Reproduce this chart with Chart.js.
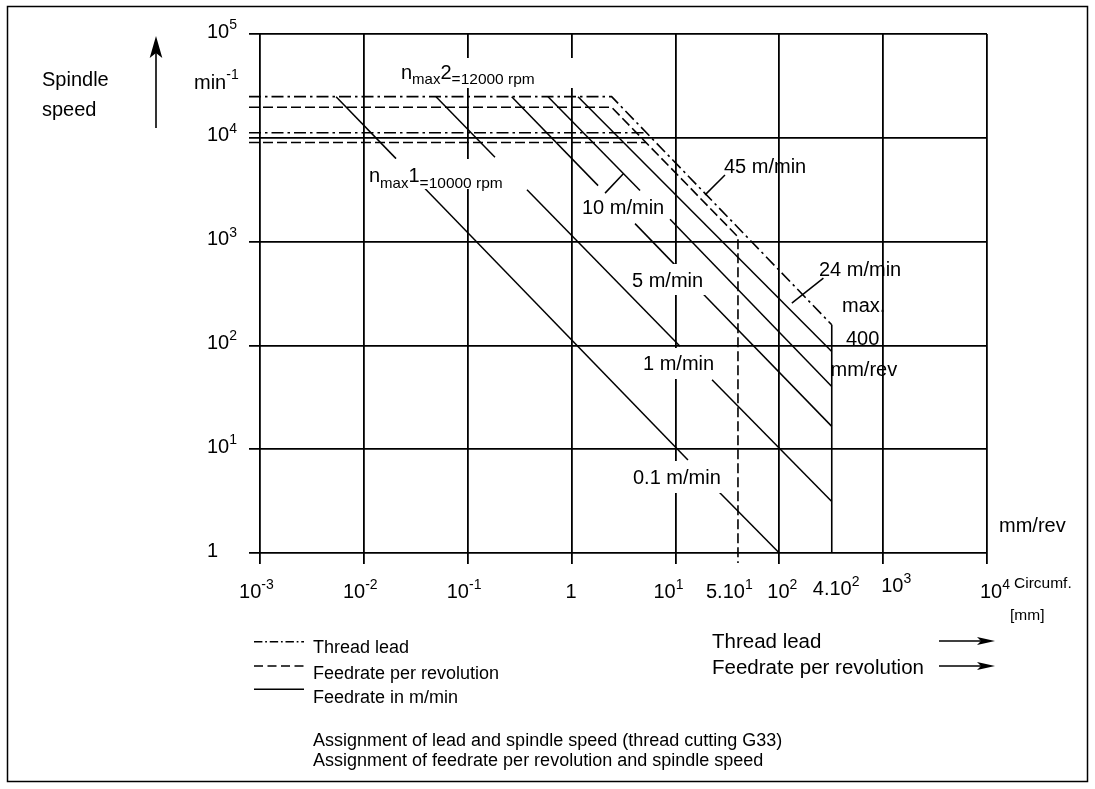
<!DOCTYPE html>
<html>
<head>
<meta charset="utf-8">
<title>Spindle speed vs. lead / feedrate</title>
<script src="https://cdn.jsdelivr.net/npm/chart.js@4.4.1/dist/chart.umd.min.js"></script>
<style>
  html, body { margin: 0; padding: 0; background: #fff; }
  #chart { display: block; }
</style>
</head>
<body>
<canvas id="chart" width="1095" height="789"></canvas>
<script>
// ---- axes ----
const xMin = 7.83e-4;               // left edge of the plot, a bit left of 10^-3
const xMax = 1e4;
const yMin = 1;
const yMax = 1e5;
const xDecades = [1e-3, 1e-2, 1e-1, 1, 1e1, 1e2, 1e3, 1e4];
const yDecades = [1, 1e1, 1e2, 1e3, 1e4, 1e5];

// tick labels: [base, exponent]
const xTickValues = [1e-3, 1e-2, 1e-1, 1, 10, 40, 100, 320, 1e3, 1e4];
const xTickLabels = [["10", "-3"], ["10", "-2"], ["10", "-1"], ["1", ""], ["10", "1"],
                     ["5.10", "1"], ["10", "2"], ["4.10", "2"], ["10", "3"], ["10", "4"]];
const yTickLabels = [["1", ""], ["10", "1"], ["10", "2"], ["10", "3"], ["10", "4"], ["10", "5"]];

// ---- n_max limits: thread lead (dash-dot), feedrate per rev (dashed) ----
// each series = list of polylines, each polyline = [x, y] points
const threadLead = [
  [[xMin, 24900], [2.43, 24900], [320, 158]],   // n_max2 + max lead
  [[xMin, 11200], [5.26, 11200]]                // n_max1
];
const feedPerRev = [
  [[xMin, 19700], [2.43, 19700], [40, 1110], [40, 0.8]],
  [[xMin, 9000], [5.22, 9000]]
];
const maxFeedLimit = [
  [[320, 158], [320, 1]]                        // max. 400 mm/rev
];

// ---- feedrate in m/min (solid), broken where labels sit ----
const feed01 = [[[0.0054, 24900], [0.0204, 6300]], [[0.0371, 3400], [13.2, 7.86]], [[26.3, 3.87], [100, 1]]];
const feed1  = [[[0.0495, 24900], [0.183, 6500]], [[0.372, 3160], [11.07, 98.2]], [[22.5, 46.7], [320, 3.14]]];
const feed5  = [[[0.265, 24900], [1.80, 3460]], [[4.08, 1490], [10, 590]], [[18.4, 315], [320, 16.6]]];
const feed10 = [[[0.593, 24900], [4.56, 3100]], [[8.87, 1640], [320, 40.2]]];
const feed24 = [[[1.153, 24900], [320, 87.3]]];

// leader lines of the labels
const leaders = [
  [[2.10, 2930], [3.15, 4500]],   // 10 m/min
  [[19.3, 2820], [30.0, 4390]],   // 45 m/min
  [[132, 255], [266, 444]]        // 24 m/min
];

// ---- styles ----
const FONT = '"Liberation Sans", Arial, Helvetica, sans-serif';
const DASH_DOT = [12, 4, 2.5, 4];
const DASHED = [10, 4];
const SOLID = [];

const font = (size) => size + "px " + FONT;

const toDatasets = (series, dash, width) =>
  series.map((line) => ({
    data: line.map(([x, y]) => ({ x: x, y: y })),
    borderColor: "#000",
    borderWidth: width,
    borderDash: dash,
    pointRadius: 0,
    tension: 0,
    fill: false,
    clip: false,
  }));

const datasets = [
  ...toDatasets(threadLead, DASH_DOT, 1.6),
  ...toDatasets(feedPerRev, DASHED, 1.6),
  ...toDatasets(maxFeedLimit, SOLID, 1.6),
  ...toDatasets(feed01, SOLID, 1.5),
  ...toDatasets(feed1, SOLID, 1.5),
  ...toDatasets(feed5, SOLID, 1.5),
  ...toDatasets(feed10, SOLID, 1.5),
  ...toDatasets(feed24, SOLID, 1.5),
  ...toDatasets(leaders, SOLID, 1.5),
];

// draw a run of text pieces (for super/subscripts)
function drawRuns(ctx, x, y, runs) {
  runs.forEach((r) => {
    ctx.font = font(r.size);
    ctx.fillText(r.t, x, y + (r.dy || 0));
    x += ctx.measureText(r.t).width;
  });
}

function arrow(ctx, x1, y1, x2, y2, len, half, notch) {
  const d = Math.hypot(x2 - x1, y2 - y1);
  const ux = (x2 - x1) / d, uy = (y2 - y1) / d;
  const nx = -uy, ny = ux;
  ctx.beginPath();
  ctx.moveTo(x1, y1);
  ctx.lineTo(x2 - ux * (len - notch), y2 - uy * (len - notch));
  ctx.stroke();
  ctx.beginPath();
  ctx.moveTo(x2, y2);
  ctx.lineTo(x2 - ux * len + nx * half, y2 - uy * len + ny * half);
  ctx.lineTo(x2 - ux * (len - notch), y2 - uy * (len - notch));
  ctx.lineTo(x2 - ux * len - nx * half, y2 - uy * len - ny * half);
  ctx.closePath();
  ctx.fill();
}

// labels inside the plot; box = white patch that interrupts the grid
const plotNotes = [
  { t: "10 m/min", x: 582, y: 214 },
  { t: "45 m/min", x: 724, y: 173 },
  { t: "5 m/min", x: 632, y: 286.5, box: [631, 264, 78, 31] },
  { t: "1 m/min", x: 643, y: 370, box: [643, 348, 76, 31] },
  { t: "0.1 m/min", x: 633, y: 484, box: [632, 461, 94, 32] },
  { t: "24 m/min", x: 819, y: 276 },
  { t: "max.", x: 842, y: 311.5 },
  { t: "400", x: 846, y: 345 },
  { t: "mm/rev", x: 830.5, y: 375.5 },
  { t: "mm/rev", x: 999, y: 531.5 },
];
const nmaxBoxes = [[398, 58, 180, 30], [366, 159, 141, 30]];
// nudges of the x tick labels (the drawing is not strictly aligned)
const xLabelDx = [-21, -21, -21, -6, -22, -32, -12, -19, -2, -7];
const xLabelDy = [0, 0, 0, 0, 0, 0, 0, -3, -6, 0];

const drawing = {
  id: "drawing",
  afterDatasetsDraw(chart) {
    const ctx = chart.ctx;
    ctx.save();
    ctx.fillStyle = "#fff";
    plotNotes.forEach((n) => { if (n.box) ctx.fillRect(...n.box); });
    nmaxBoxes.forEach((b) => ctx.fillRect(...b));
    ctx.restore();
  },
  afterDraw(chart) {
    const ctx = chart.ctx;
    const xs = chart.scales.x, ys = chart.scales.y;
    ctx.save();
    ctx.fillStyle = "#000";
    ctx.strokeStyle = "#000";
    ctx.textBaseline = "alphabetic";
    ctx.textAlign = "left";

    // frame
    ctx.lineWidth = 1.5;
    ctx.strokeRect(7.5, 6.5, 1080, 775);

    // tick labels
    xTickValues.forEach((v, i) => {
      const px = xs.getPixelForValue(v);
      const [b, e] = xTickLabels[i];
      drawRuns(ctx, px + xLabelDx[i], 598 + xLabelDy[i],
        [{ t: b, size: 20 }, { t: e, size: 14, dy: -9 }]);
    });
    yDecades.forEach((v, i) => {
      const py = ys.getPixelForValue(v);
      const [b, e] = yTickLabels[i];
      drawRuns(ctx, 207, py + 3.5, [{ t: b, size: 20 }, { t: e, size: 14, dy: -8.5 }]);
    });
    ctx.font = font(15.5);
    ctx.fillText("Circumf.", 1014, 588);
    ctx.fillText("[mm]", 1010, 620);

    // y axis title
    ctx.font = font(20);
    ctx.fillText("Spindle", 42, 86);
    ctx.fillText("speed", 42, 116);
    drawRuns(ctx, 194, 88.5, [{ t: "min", size: 20 }, { t: "-1", size: 14, dy: -9.5 }]);
    ctx.lineWidth = 1.6;
    arrow(ctx, 156, 128, 156, 36, 22, 6.3, 5);

    // n_max labels
    drawRuns(ctx, 401, 78.5, [{ t: "n", size: 20 }, { t: "max", size: 15, dy: 5.5 },
      { t: "2", size: 20 }, { t: "=12000 rpm", size: 15.5, dy: 5.5 }]);
    drawRuns(ctx, 369, 182, [{ t: "n", size: 20 }, { t: "max", size: 15, dy: 5.5 },
      { t: "1", size: 20 }, { t: "=10000 rpm", size: 15.5, dy: 6 }]);

    // notes in the plot
    ctx.font = font(20);
    plotNotes.forEach((n) => ctx.fillText(n.t, n.x, n.y));

    // legend
    const legend = [
      { dash: DASH_DOT.map((d) => d * 0.7), y: 641.7, t: "Thread lead", ty: 653 },
      { dash: [9, 4.5], y: 666, t: "Feedrate per revolution", ty: 679 },
      { dash: SOLID, y: 689.3, t: "Feedrate in m/min", ty: 702.5 },
    ];
    ctx.lineWidth = 1.6;
    ctx.font = font(18);
    legend.forEach((l) => {
      ctx.setLineDash(l.dash);
      ctx.beginPath();
      ctx.moveTo(254, l.y);
      ctx.lineTo(304, l.y);
      ctx.stroke();
      ctx.setLineDash([]);
      ctx.fillText(l.t, 313, l.ty);
    });
    ctx.fillText("Assignment of lead and spindle speed (thread cutting G33)", 313, 746);
    ctx.fillText("Assignment of feedrate per revolution and spindle speed", 313, 766);

    // x axis meaning
    ctx.font = font(20.5);
    ctx.fillText("Thread lead", 712, 648);
    ctx.fillText("Feedrate per revolution", 712, 674);
    ctx.lineWidth = 1.6;
    arrow(ctx, 939, 641, 995, 641, 18, 4, 4);
    arrow(ctx, 939, 666, 995, 666, 18, 4, 4);
    ctx.restore();
  },
};

const ctx = document.getElementById("chart").getContext("2d");
const chart = new Chart(ctx, {
  type: "line",
  data: { datasets: datasets },
  options: {
    responsive: false,
    animation: false,
    devicePixelRatio: 1,
    events: [],
    layout: { padding: { left: 249, right: 108, top: 34, bottom: 225 } },
    plugins: { legend: { display: false }, tooltip: { enabled: false } },
    scales: {
      x: {
        type: "logarithmic",
        min: xMin,
        max: xMax,
        afterBuildTicks: (scale) => { scale.ticks = xDecades.map((v) => ({ value: v })); },
        ticks: { display: false },
        grid: { color: "#000", lineWidth: 1.8, drawTicks: true, tickLength: 11, tickColor: "#000", tickWidth: 1.8 },
        border: { display: false },
      },
      y: {
        type: "logarithmic",
        min: yMin,
        max: yMax,
        afterBuildTicks: (scale) => { scale.ticks = yDecades.map((v) => ({ value: v })); },
        ticks: { display: false },
        grid: { color: "#000", lineWidth: 1.8, drawTicks: false },
        border: { display: false },
      },
    },
  },
  plugins: [drawing],
});
</script>
</body>
</html>
